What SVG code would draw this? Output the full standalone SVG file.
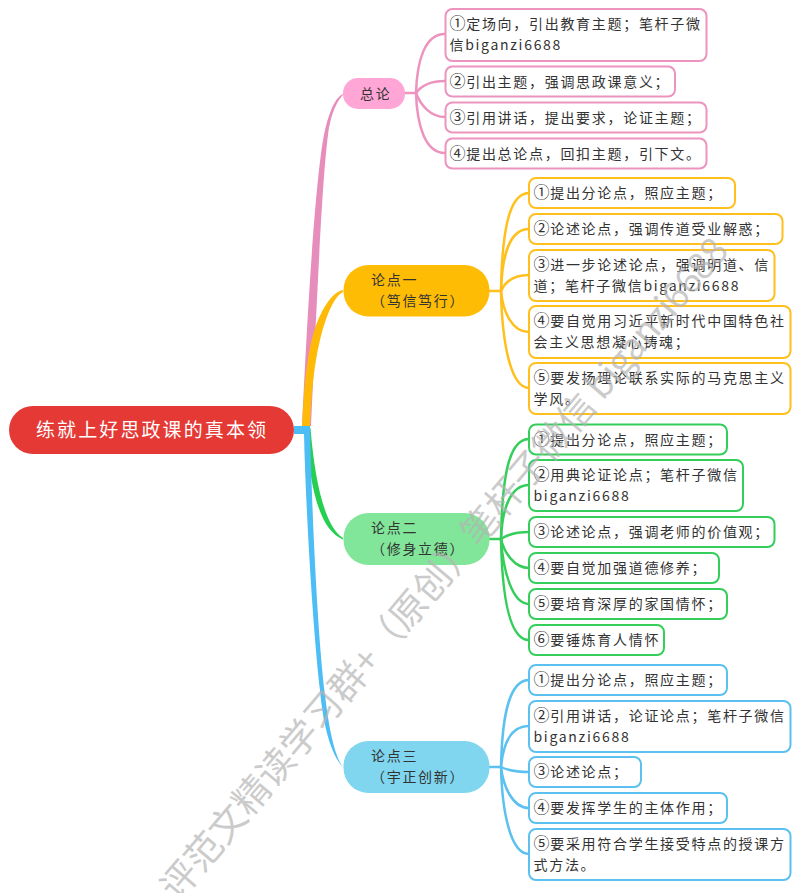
<svg xmlns="http://www.w3.org/2000/svg" width="800" height="893" viewBox="0 0 800 893">
<style>
text{font-family:"Noto Sans CJK SC","Noto Sans",sans-serif;font-size:14px;letter-spacing:1.7px;fill:#333}
.d{font-size:16px;letter-spacing:.7px}
.box{fill:#fff;stroke-width:2}
.p .box{stroke:#EC93BE}.o .box{stroke:#FFC01E}.g .box{stroke:#35CE5A}.b .box{stroke:#5CC1F0}
.c{fill:none;stroke-width:2.5;stroke-linecap:round}
.cp{stroke:#EC93BE}.co{stroke:#FFC01E}.cg{stroke:#35CE5A}.cb{stroke:#5CC1F0}
.wm{font-size:37px;letter-spacing:0;fill:#b4b4b4;fill-opacity:.7}
</style>
<rect width="800" height="893" fill="#fff"/>
<g id="connectors">
<path fill="#E68DBB" d="M302,426C308,300 316,170 325,130C330,108 337,96 343,94L343,95C338,100 331,112 328,135C322,180 317,300 311,426Z"/>
<path fill="#FFBA08" d="M302,427C304,390 306,360 313,335C320,310 332,292 343,290L343,292C335,296 327,312 320,340C314,365 311,395 310,427Z"/>
<path fill="#25CF50" d="M306,432C310,490 320,530 343,539.5L343,538C326,528 315,485 310.5,428Z"/>
<path fill="#4DBDF5" d="M294,426H310C312,520 318,640 325,695C329,730 335,757 343,767C331,755 323,725 320,690C314,640 306,520 304,434H294Z"/>
<g class="c cp">
<path d="M405,93H416"/><path d="M416,93C417,60 425,34 445,34"/><path d="M416,93C421,86 431,81 445,81"/><path d="M416,93C421,106 431,117 445,117"/><path d="M416,93C417,125 425,153 445,153"/>
</g>
<g class="c co">
<path d="M489.5,291H501"/><path d="M501,291C502,235 508,193 529,193"/><path d="M501,291C502,255 510,229 529,229"/><path d="M501,291C505,282 514,275 529,275"/><path d="M501,291C503,312 512,332 529,332"/><path d="M501,291C502,340 510,388 529,388"/>
</g>
<g class="c cg">
<path d="M489.5,539H501"/><path d="M501,539C502,480 508,439 529,439"/><path d="M501,539C502,510 510,485 529,485"/><path d="M501,539C507,535 516,532 529,532"/><path d="M501,539C504,552 514,568 529,568"/><path d="M501,539C503,570 512,604 529,604"/><path d="M501,539C502,590 508,640 529,640"/>
</g>
<g class="c cb">
<path d="M489.5,767H501"/><path d="M501,767C502,720 508,680 529,680"/><path d="M501,767C503,745 510,726 529,726"/><path d="M501,767C507,770 516,772 529,772"/><path d="M501,767C503,785 512,808 529,808"/><path d="M501,767C502,810 510,854 529,854"/>
</g>
</g>
<g id="root"><rect x="9" y="406" width="285" height="48" rx="24" fill="#E53935"/><text x="36" y="437" style="font-size:19px;letter-spacing:2.1px;fill:#fff">练就上好思政课的真本领</text></g>
<g id="n0"><rect x="343" y="78" width="62" height="31" rx="15" fill="#FFA6D6"/><text x="360" y="98.5">总论</text></g>
<g id="n1"><rect x="343.5" y="265" width="146" height="51.5" rx="25" fill="#FFBC05"/><text x="371" y="285">论点一</text><text x="371" y="306">（笃信笃行）</text></g>
<g id="n2"><rect x="343.5" y="513" width="146" height="52" rx="25" fill="#82E69A"/><text x="371" y="533">论点二</text><text x="371" y="554">（修身立德）</text></g>
<g id="n3"><rect x="343.5" y="741" width="146" height="52" rx="25" fill="#7FD6EE"/><text x="371" y="761">论点三</text><text x="371" y="782">（宇正创新）</text></g>
<g class="p">
<g id="p1"><rect class="box" x="445.5" y="9" width="261" height="52" rx="7"/><text x="449.5" y="28.5"><tspan class="d">①</tspan>定场向，引出教育主题；笔杆子微</text><text x="449.5" y="50">信biganzi6688</text></g>
<g id="p2"><rect class="box" x="445.5" y="66.5" width="229.5" height="30" rx="7"/><text x="449.5" y="86.5"><tspan class="d">②</tspan>引出主题，强调思政课意义；</text></g>
<g id="p3"><rect class="box" x="445.5" y="102.5" width="261" height="30" rx="7"/><text x="449.5" y="122.5"><tspan class="d">③</tspan>引用讲话，提出要求，论证主题；</text></g>
<g id="p4"><rect class="box" x="445.5" y="138.5" width="261" height="30" rx="7"/><text x="449.5" y="158.5"><tspan class="d">④</tspan>提出总论点，回扣主题，引下文。</text></g>
</g>
<g class="o">
<g id="o1"><rect class="box" x="529" y="178" width="206" height="30" rx="7"/><text x="533.5" y="198"><tspan class="d">①</tspan>提出分论点，照应主题；</text></g>
<g id="o2"><rect class="box" x="529" y="214" width="253.5" height="30" rx="7"/><text x="533.5" y="234"><tspan class="d">②</tspan>论述论点，强调传道受业解惑；</text></g>
<g id="o3"><rect class="box" x="529" y="250" width="245.5" height="51" rx="7"/><text x="533.5" y="269.5"><tspan class="d">③</tspan>进一步论述论点，强调明道、信</text><text x="533.5" y="290.5">道；笔杆子微信biganzi6688</text></g>
<g id="o4"><rect class="box" x="529" y="306" width="261.5" height="52" rx="7"/><text x="533.5" y="326"><tspan class="d">④</tspan>要自觉用习近平新时代中国特色社</text><text x="533.5" y="347">会主义思想凝心铸魂；</text></g>
<g id="o5"><rect class="box" x="529" y="363" width="261.5" height="51" rx="7"/><text x="533.5" y="383"><tspan class="d">⑤</tspan>要发扬理论联系实际的马克思主义</text><text x="533.5" y="404">学风。</text></g>
</g>
<g class="g">
<g id="g1"><rect class="box" x="529" y="424.5" width="198" height="30" rx="7"/><text x="533.5" y="444.5"><tspan class="d">①</tspan>提出分论点，照应主题；</text></g>
<g id="g2"><rect class="box" x="529" y="460" width="214" height="51" rx="7"/><text x="533.5" y="480"><tspan class="d">②</tspan>用典论证论点；笔杆子微信</text><text x="533.5" y="501">biganzi6688</text></g>
<g id="g3"><rect class="box" x="529" y="517" width="245.5" height="30" rx="7"/><text x="533.5" y="537"><tspan class="d">③</tspan>论述论点，强调老师的价值观；</text></g>
<g id="g4"><rect class="box" x="529" y="553" width="190" height="30" rx="7"/><text x="533.5" y="573"><tspan class="d">④</tspan>要自觉加强道德修养；</text></g>
<g id="g5"><rect class="box" x="529" y="589" width="198" height="30" rx="7"/><text x="533.5" y="609"><tspan class="d">⑤</tspan>要培育深厚的家国情怀；</text></g>
<g id="g6"><rect class="box" x="529" y="625" width="135" height="30" rx="7"/><text x="533.5" y="645"><tspan class="d">⑥</tspan>要锤炼育人情怀</text></g>
</g>
<g class="b">
<g id="b1"><rect class="box" x="529" y="665" width="198" height="30" rx="7"/><text x="533.5" y="685"><tspan class="d">①</tspan>提出分论点，照应主题；</text></g>
<g id="b2"><rect class="box" x="529" y="701" width="261.5" height="51" rx="7"/><text x="533.5" y="720.5"><tspan class="d">②</tspan>引用讲话，论证论点；笔杆子微信</text><text x="533.5" y="741.5">biganzi6688</text></g>
<g id="b3"><rect class="box" x="529" y="757" width="112" height="30" rx="7"/><text x="533.5" y="777"><tspan class="d">③</tspan>论述论点；</text></g>
<g id="b4"><rect class="box" x="529" y="793" width="198" height="30" rx="7"/><text x="533.5" y="813"><tspan class="d">④</tspan>要发挥学生的主体作用；</text></g>
<g id="b5"><rect class="box" x="529" y="829" width="261.5" height="51" rx="7"/><text x="533.5" y="849"><tspan class="d">⑤</tspan>要采用符合学生接受特点的授课方</text><text x="533.5" y="870">式方法。</text></g>
</g>
<text class="wm" transform="translate(178 902.5) rotate(-49.7)">评范文精读学习群+（原创）笔杆子微信<tspan style="letter-spacing:-1px"> biganzi6688</tspan></text>
</svg>
